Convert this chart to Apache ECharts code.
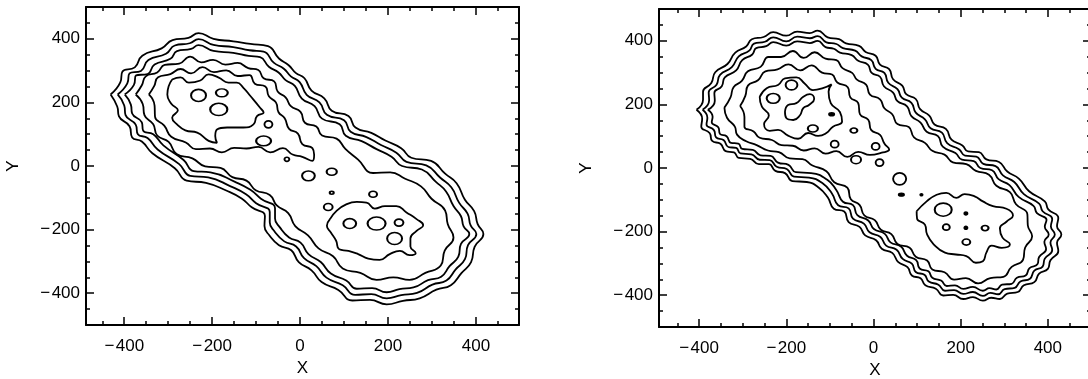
<!DOCTYPE html>
<html><head><meta charset="utf-8">
<script src="https://cdn.jsdelivr.net/npm/echarts@6/dist/echarts.min.js"></script>
<style>html,body{margin:0;padding:0;background:#fff}#c{width:1088px;height:379px}</style>
</head><body><div id="c"></div>
<script>
// ---------- tick data ----------
const xTickValues = [-400, -200, 0, 200, 400];
const xTickLabels = ['\u2212\u200A400', '\u2212\u200A200', '0', '200', '400'];
const yTickValues = [-400, -200, 0, 200, 400];
const yTickLabels = ['\u2212\u200A400', '\u2212\u200A200', '0', '200', '400'];
const minorTickValues = [-450,-350,-300,-250,-150,-100,-50,50,100,150,250,300,350,450];

// ---------- left panel contours (data units) ----------
const leftL1 = [[-431,225],[-409,263],[-404,297],[-376,310],[-359,347],[-315,370],[-290,396],[-254,403],[-231,418],[-197,400],[-152,392],[-113,384],[-73,377],[-48,338],[-26,317],[-10,293],[10,276],[26,237],[55,213],[72,174],[110,157],[126,121],[162,104],[194,80],[230,56],[253,26],[298,16],[330,-24],[356,-54],[375,-106],[396,-142],[404,-183],[417,-214],[397,-254],[389,-302],[367,-337],[343,-375],[310,-389],[272,-416],[234,-424],[197,-435],[159,-421],[119,-423],[87,-390],[49,-365],[26,-328],[-3,-302],[-20,-265],[-48,-249],[-70,-218],[-81,-189],[-80,-157],[-110,-130],[-133,-102],[-168,-77],[-214,-53],[-258,-46],[-285,-7],[-336,40],[-360,77],[-382,90],[-388,125],[-412,156],[-416,187]];
const leftL2 = [[-415,225],[-393,260],[-388,291],[-362,299],[-345,333],[-305,353],[-285,379],[-251,386],[-231,399],[-197,381],[-152,374],[-115,364],[-83,360],[-60,325],[-37,306],[-21,282],[-1,264],[15,224],[44,200],[61,161],[100,144],[115,108],[151,91],[184,66],[219,42],[242,13],[287,2],[319,-37],[344,-67],[362,-116],[381,-150],[388,-187],[401,-214],[382,-249],[375,-293],[354,-325],[333,-360],[301,-373],[266,-399],[230,-406],[197,-416],[162,-403],[125,-405],[97,-375],[60,-351],[37,-315],[9,-290],[-9,-253],[-36,-237],[-58,-206],[-69,-177],[-69,-145],[-100,-117],[-123,-89],[-158,-64],[-209,-36],[-250,-31],[-275,6],[-324,52],[-347,88],[-369,100],[-374,130],[-397,160],[-400,190]];
const leftL3 = [[-399,225],[-378,255],[-373,285],[-347,289],[-331,319],[-295,337],[-280,361],[-248,368],[-231,380],[-197,362],[-152,356],[-117,346],[-91,342],[-71,312],[-49,294],[-33,270],[-12,252],[4,212],[33,188],[50,149],[90,131],[104,95],[140,78],[174,53],[208,29],[232,0],[277,-11],[309,-50],[332,-80],[349,-126],[366,-158],[372,-190],[385,-214],[366,-245],[360,-285],[340,-315],[321,-348],[291,-359],[258,-382],[226,-387],[197,-397],[164,-384],[129,-386],[105,-360],[70,-338],[47,-302],[19,-277],[1,-241],[-25,-225],[-46,-193],[-57,-165],[-57,-133],[-89,-103],[-113,-75],[-148,-50],[-204,-20],[-242,-16],[-265,19],[-311,65],[-334,100],[-357,111],[-360,137],[-382,165],[-385,193]];
const leftL4 = [[-374,225],[-360,254],[-351,282],[-325,294],[-308,318],[-275,322],[-250,344],[-225,326],[-198,334],[-170,319],[-142,324],[-118,308],[-95,302],[-83,276],[-59,266],[-51,234],[-33,216],[-21,188],[1,170],[11,136],[37,124],[50,96],[83,86],[103,54],[132,20],[166,-22],[205,-20],[239,-40],[275,-64],[299,-103],[330,-140],[336,-183],[349,-225],[329,-266],[320,-313],[285,-336],[249,-358],[212,-350],[174,-358],[137,-336],[97,-322],[75,-284],[42,-259],[18,-218],[-11,-189],[-27,-148],[-53,-124],[-69,-91],[-101,-76],[-122,-46],[-154,-35],[-181,-6],[-216,-1],[-245,24],[-281,38],[-299,76],[-325,96],[-334,131],[-354,160],[-358,195]];
const leftL5a = [[-344,225],[-332,251],[-323,279],[-295,289],[-272,305],[-248,291],[-222,311],[-196,295],[-168,301],[-142,283],[-115,286],[-103,259],[-79,250],[-71,219],[-55,200],[-49,169],[-35,150],[-25,117],[-5,102],[5,69],[28,56],[32,35],[28,16],[5,29],[-17,36],[-39,56],[-68,43],[-95,60],[-122,55],[-150,57],[-178,43],[-205,55],[-237,53],[-260,74],[-293,92],[-309,127],[-330,155],[-331,190]];
const leftL6a = [[-291,272],[-272,279],[-253,262],[-227,269],[-208,288],[-185,278],[-163,262],[-144,262],[-129,246],[-113,220],[-91,183],[-83,168],[-98,157],[-106,131],[-129,121],[-166,121],[-189,115],[-193,94],[-189,73],[-208,79],[-234,105],[-261,112],[-280,131],[-291,152],[-278,175],[-293,196],[-302,225],[-299,251]];
const leftL5b = [[68,-167],[83,-141],[106,-120],[129,-113],[151,-115],[170,-134],[193,-126],[219,-126],[242,-146],[265,-167],[280,-186],[265,-204],[251,-228],[251,-253],[263,-274],[249,-280],[227,-267],[204,-277],[181,-295],[155,-291],[132,-277],[110,-267],[89,-262],[82,-235],[70,-209],[61,-188]];
// islands: [x, y, width, height] in data units
const leftIslands = [[-231,222,34,38],[-178,230,27,25],[-185,178,39,38],[-72,131,18,22],[-83,79,34,31],[-30,21,11,13],[19,-31,29,31],[72,-18,23,22],[72,-84,9,9],[64,-129,20,22],[166,-89,18,19],[113,-181,29,31],[174,-181,41,41],[225,-178,20,22],[215,-228,34,38]];

// ---------- right panel contours (data units) ----------
const rightL1 = [[-406,183],[-391,215],[-391,240],[-372,267],[-363,301],[-335,327],[-317,363],[-292,382],[-279,405],[-252,412],[-230,427],[-200,416],[-175,429],[-146,424],[-128,432],[-105,411],[-79,405],[-63,392],[-33,384],[-18,365],[5,353],[15,325],[36,311],[45,279],[66,259],[75,232],[97,217],[107,185],[128,165],[140,137],[166,123],[179,89],[204,71],[217,52],[242,50],[259,27],[288,19],[307,-11],[334,-34],[357,-73],[393,-105],[401,-130],[424,-157],[421,-183],[431,-209],[421,-235],[424,-261],[406,-290],[400,-317],[380,-332],[369,-359],[345,-369],[331,-390],[307,-395],[290,-412],[270,-408],[251,-417],[228,-406],[206,-412],[183,-399],[160,-401],[143,-380],[119,-369],[108,-347],[88,-338],[78,-312],[57,-296],[43,-267],[19,-254],[6,-227],[-19,-212],[-32,-185],[-57,-170],[-67,-137],[-91,-128],[-105,-92],[-126,-61],[-153,-44],[-186,-41],[-203,-16],[-225,-9],[-240,12],[-263,12],[-283,29],[-309,32],[-320,49],[-339,53],[-351,76],[-370,85],[-376,110],[-395,130],[-393,155]];
const rightL2 = [[-392,183],[-377,213],[-378,238],[-360,262],[-352,293],[-325,317],[-309,351],[-285,369],[-274,391],[-249,397],[-230,411],[-200,398],[-175,413],[-146,408],[-128,415],[-108,395],[-85,390],[-70,377],[-42,369],[-27,351],[-5,339],[5,312],[25,299],[34,268],[55,248],[65,221],[87,205],[97,174],[118,153],[131,125],[157,111],[169,78],[196,59],[210,39],[236,36],[252,13],[280,6],[297,-23],[323,-44],[345,-82],[380,-112],[388,-136],[410,-160],[407,-184],[416,-209],[406,-234],[410,-258],[393,-285],[388,-310],[369,-323],[359,-348],[337,-357],[324,-377],[301,-381],[286,-397],[268,-393],[251,-402],[228,-390],[206,-396],[185,-384],[164,-386],[149,-367],[127,-357],[117,-336],[97,-327],[88,-301],[67,-286],[53,-257],[29,-244],[16,-217],[-9,-202],[-22,-175],[-47,-159],[-57,-127],[-81,-117],[-95,-81],[-116,-49],[-148,-30],[-182,-27],[-199,-3],[-222,4],[-238,25],[-261,26],[-280,43],[-305,46],[-315,63],[-333,66],[-344,88],[-361,96],[-366,119],[-383,137],[-381,158]];
const rightL3 = [[-380,183],[-364,211],[-365,236],[-348,257],[-341,285],[-315,307],[-301,339],[-278,357],[-269,377],[-246,383],[-230,396],[-200,385],[-175,398],[-146,393],[-128,400],[-110,380],[-91,375],[-77,363],[-50,355],[-35,337],[-13,325],[-4,299],[15,287],[24,257],[45,237],[55,210],[77,194],[87,163],[108,143],[122,114],[148,100],[159,67],[188,47],[203,26],[230,22],[245,0],[272,-7],[287,-35],[312,-54],[333,-91],[367,-119],[375,-142],[397,-163],[393,-185],[402,-209],[392,-232],[396,-255],[380,-280],[376,-303],[358,-315],[349,-338],[329,-345],[317,-364],[295,-367],[282,-382],[266,-378],[251,-386],[228,-374],[206,-380],[187,-369],[168,-371],[155,-354],[135,-345],[126,-325],[106,-316],[98,-290],[77,-276],[63,-247],[39,-234],[26,-207],[1,-192],[-12,-165],[-37,-148],[-47,-117],[-70,-106],[-85,-70],[-106,-37],[-143,-16],[-178,-13],[-195,10],[-219,17],[-236,38],[-259,40],[-277,57],[-301,60],[-310,77],[-327,79],[-337,100],[-352,107],[-356,128],[-371,144],[-369,161]];
const rightL4 = [[-342,190],[-328,222],[-321,254],[-302,274],[-288,304],[-259,318],[-241,349],[-212,349],[-185,368],[-160,346],[-135,364],[-110,344],[-85,339],[-71,314],[-49,299],[-38,278],[-17,262],[-8,231],[15,216],[25,188],[43,169],[55,138],[81,129],[93,96],[118,79],[135,54],[163,42],[182,18],[213,12],[235,-9],[265,-21],[282,-56],[313,-76],[327,-114],[353,-145],[354,-180],[364,-215],[348,-250],[343,-289],[317,-311],[298,-342],[268,-346],[240,-363],[212,-346],[185,-351],[163,-328],[135,-319],[123,-291],[97,-279],[83,-251],[55,-239],[41,-208],[17,-194],[3,-164],[-21,-149],[-32,-116],[-52,-98],[-60,-62],[-90,-45],[-108,-10],[-140,8],[-163,28],[-192,30],[-217,50],[-242,55],[-268,72],[-292,84],[-313,105],[-318,130],[-336,158]];
const rightL5a = [[-306,195],[-294,227],[-288,259],[-265,276],[-248,304],[-220,310],[-195,326],[-168,307],[-142,323],[-118,300],[-95,294],[-83,269],[-59,254],[-53,222],[-35,204],[-31,169],[-12,152],[-5,119],[15,104],[25,77],[36,58],[19,48],[-8,41],[-35,51],[-60,35],[-85,53],[-110,45],[-135,62],[-160,55],[-185,70],[-211,72],[-233,88],[-261,95],[-275,115],[-296,130],[-296,160]];
const rightL6a = [[-261,224],[-245,251],[-219,261],[-203,282],[-177,285],[-158,266],[-139,245],[-116,251],[-96,263],[-103,240],[-98,204],[-77,176],[-72,146],[-93,130],[-108,110],[-127,101],[-150,110],[-173,92],[-196,102],[-219,120],[-238,117],[-251,138],[-240,165],[-256,193]];
const rightL5b = [[99,-136],[122,-105],[145,-84],[167,-78],[190,-94],[209,-82],[232,-89],[251,-105],[274,-120],[305,-128],[320,-149],[305,-169],[290,-190],[296,-219],[313,-240],[294,-251],[271,-244],[259,-266],[251,-293],[235,-298],[213,-277],[189,-272],[164,-266],[138,-240],[123,-209],[118,-178],[100,-159]];
const rightPeanut = [[-203,177],[-196,198],[-177,204],[-161,224],[-146,232],[-136,217],[-148,198],[-161,188],[-169,165],[-184,151],[-200,157]];
const rightIslands = [[-188,261,27,31],[-230,219,30,31],[-139,124,23,22],[-45,118,16,16],[-89,75,18,22],[5,68,18,22],[-40,26,23,25],[14,17,18,22],[60,-34,30,38],[160,-131,39,41],[167,-186,16,19],[256,-189,16,16],[213,-233,18,19]];
const rightDots = [[-96,169,11,10],[64,-84,11,9],[110,-84,5,6],[212,-143,7,9],[212,-188,7,9]];

// ---------- layout ----------
const FONT = '"Liberation Sans", Arial, Helvetica, sans-serif';
const panels = [
  {grid:{left:86, top:7, width:433, height:318}, xmin:-487, xmax:498},
  {grid:{left:659, top:9, width:432, height:318}, xmin:-492, xmax:499}
];
const ymin = -500, ymax = 500;

function lab(values, labels){ return function(v){ const i = values.indexOf(Math.round(v)); return i >= 0 ? labels[i] : ''; }; }
const tickLine = {color:'#000', width:1.5};
const axLine = {show:true, onZero:false, lineStyle:{color:'#000', width:2}};
const noLine = {show:false, onZero:false};
const textStyle = {fontSize:17, color:'#000', fontFamily:FONT};

const xAxis = [], yAxis = [];
panels.forEach(function(p, g){
  const bx = {gridIndex:g, type:'value', min:p.xmin, max:p.xmax, splitLine:{show:false}, axisPointer:{show:false}};
  const by = {gridIndex:g, type:'value', min:ymin, max:ymax, splitLine:{show:false}, axisPointer:{show:false}};
  xAxis.push(Object.assign({}, bx, {position:'bottom', axisLine:axLine,
    axisTick:{show:true, inside:true, length:8, customValues:xTickValues, lineStyle:tickLine},
    axisLabel:Object.assign({show:true, customValues:xTickValues, formatter:lab(xTickValues, xTickLabels), margin:13}, textStyle),
    name:'X', nameLocation:'middle', nameGap:34, nameTextStyle:textStyle}));
  xAxis.push(Object.assign({}, bx, {position:'bottom', axisLine:noLine,
    axisTick:{show:true, inside:true, length:4, customValues:minorTickValues, lineStyle:tickLine}, axisLabel:{show:false}}));
  xAxis.push(Object.assign({}, bx, {position:'top', axisLine:axLine,
    axisTick:{show:true, inside:true, length:8, customValues:xTickValues, lineStyle:tickLine}, axisLabel:{show:false}}));
  xAxis.push(Object.assign({}, bx, {position:'top', axisLine:noLine,
    axisTick:{show:true, inside:true, length:4, customValues:minorTickValues, lineStyle:tickLine}, axisLabel:{show:false}}));
  yAxis.push(Object.assign({}, by, {position:'left', axisLine:axLine,
    axisTick:{show:true, inside:true, length:8, customValues:yTickValues, lineStyle:tickLine},
    axisLabel:Object.assign({show:true, customValues:yTickValues, formatter:lab(yTickValues, yTickLabels), margin:6}, textStyle),
    name:'Y', nameLocation:'middle', nameGap:64, nameTextStyle:textStyle}));
  yAxis.push(Object.assign({}, by, {position:'left', axisLine:noLine,
    axisTick:{show:true, inside:true, length:4, customValues:minorTickValues, lineStyle:tickLine}, axisLabel:{show:false}}));
  yAxis.push(Object.assign({}, by, {position:'right', axisLine:axLine,
    axisTick:{show:true, inside:true, length:8, customValues:yTickValues, lineStyle:tickLine}, axisLabel:{show:false}}));
  yAxis.push(Object.assign({}, by, {position:'right', axisLine:noLine,
    axisTick:{show:true, inside:true, length:4, customValues:minorTickValues, lineStyle:tickLine}, axisLabel:{show:false}}));
});

const series = [];
function contour(g, pts){
  series.push({type:'line', xAxisIndex:g*4, yAxisIndex:g*4, data:pts.concat([pts[0]]),
    smooth:0.5, symbol:'none', showSymbol:false, silent:true, clip:true,
    lineStyle:{color:'#000', width:1.8}});
}
function islands(g, arr, filled){
  const p = panels[g];
  const kx = p.grid.width / (p.xmax - p.xmin), ky = p.grid.height / (ymax - ymin);
  series.push({type:'scatter', xAxisIndex:g*4, yAxisIndex:g*4, data:arr, symbol:'circle', silent:true,
    symbolSize:function(v){ return [v[2]*kx, v[3]*ky]; },
    itemStyle:{color: filled ? '#000' : 'rgba(0,0,0,0)', borderColor:'#000', borderWidth:1.8, opacity:1}});
}
[leftL1, leftL2, leftL3, leftL4, leftL5a, leftL6a, leftL5b].forEach(function(c){ contour(0, c); });
islands(0, leftIslands, false);
[rightL1, rightL2, rightL3, rightL4, rightL5a, rightL6a, rightL5b, rightPeanut].forEach(function(c){ contour(1, c); });
islands(1, rightIslands, false);
islands(1, rightDots, true);

const chart = echarts.init(document.getElementById('c'), null, {renderer:'canvas'});
chart.setOption({
  animation:false,
  backgroundColor:'#fff',
  grid: panels.map(function(p){ return Object.assign({containLabel:false, outerBoundsMode:'none'}, p.grid); }),
  xAxis: xAxis, yAxis: yAxis, series: series
});
</script></body></html>
